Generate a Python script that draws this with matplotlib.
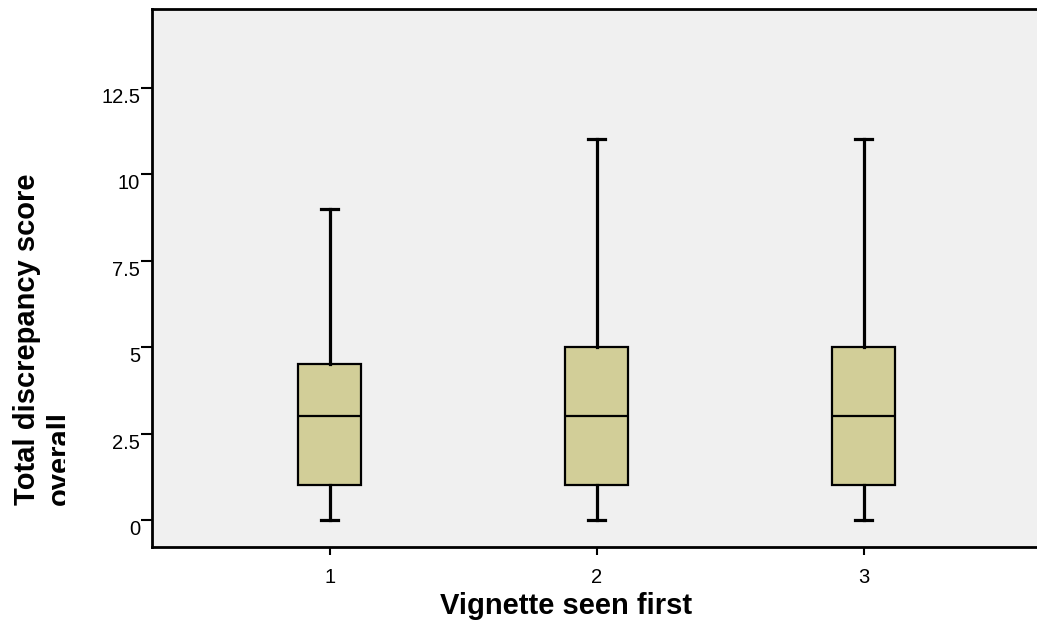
import matplotlib
matplotlib.use("Agg")
import matplotlib.pyplot as plt
from matplotlib.transforms import Bbox

plt.rcParams["font.family"] = ["Liberation Sans", "DejaVu Sans"]

# summary stats per group (vignette seen first)
groups = [1, 2, 3]
whisker_low = [0, 0, 0]
q1 = [1, 1, 1]
medians = [3, 3, 3]
q3 = [4.5, 5, 5]
whisker_high = [9, 11, 11]

y_ticks = [0, 2.5, 5, 7.5, 10, 12.5]
y_tick_labels = ["0", "2.5", "5", "7.5", "10", "12.5"]

box_color = "#D2CE98"
bg_color = "#F0F0F0"

stats = [
    {"whislo": lo, "q1": a, "med": m, "q3": b, "whishi": hi, "fliers": []}
    for lo, a, m, b, hi in zip(whisker_low, q1, medians, q3, whisker_high)
]

fig = plt.figure(figsize=(10.37, 6.21), dpi=100)
ax = fig.add_axes([152 / 1037, 74.3 / 621, 1 - 152 / 1037, (612 - 74.3) / 621])
ax.set_facecolor(bg_color)

ax.bxp(
    stats,
    positions=groups,
    widths=0.236,
    capwidths=0.064,
    patch_artist=True,
    boxprops=dict(facecolor=box_color, edgecolor="black", linewidth=1.6),
    medianprops=dict(color="black", linewidth=1.6),
    whiskerprops=dict(color="black", linewidth=2.3),
    capprops=dict(color="black", linewidth=2.3),
)

ax.set_xlim(0.335, 3.648)
ax.set_ylim(-0.77, 14.77)

ax.set_yticks(y_ticks, y_tick_labels)
ax.set_xticks(groups, [str(g) for g in groups])
for lbl in ax.get_yticklabels():
    lbl.set_verticalalignment("top")

ax.tick_params(axis="y", direction="out", length=8, width=1.5, pad=0.5, labelsize=14.5)
ax.tick_params(axis="x", direction="out", length=6, width=1.5, pad=9, labelsize=14.5)

ax.spines["right"].set_visible(False)
for side in ("left", "top", "bottom"):
    ax.spines[side].set_linewidth(2)

ax.set_xlabel("Vignette seen first", fontsize=21, fontweight="bold")
ax.xaxis.set_label_coords((566 - 152) / (1037 - 152), -0.085)

ylab = fig.text(
    13 / 1037, 116 / 621, "Total discrepancy score\noverall",
    rotation=90, ha="left", va="bottom", multialignment="left",
    fontsize=21, fontweight="bold",
)
ylab.set_clip_box(Bbox([[0, 0], [65, 621]]))
ylab.set_clip_on(True)

fig.savefig("out.png", dpi=100)
